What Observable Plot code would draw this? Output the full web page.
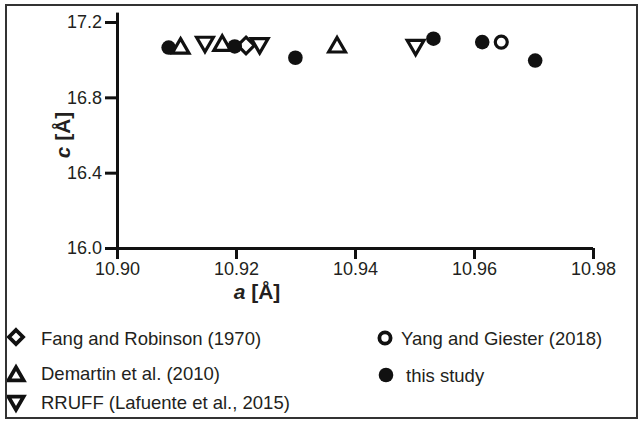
<!DOCTYPE html>
<html>
<head>
<meta charset="utf-8">
<script src="https://cdn.jsdelivr.net/npm/d3@7"></script>
<script src="https://cdn.jsdelivr.net/npm/@observablehq/plot@0.6"></script>
<style>
  body { margin: 0; background: white; }
  #wrap { position: relative; width: 642px; height: 421px; font-family: "Liberation Sans", Arial, sans-serif; color: #231f20; }
  #chart { position: absolute; left: 0; top: 0; width: 642px; }
  #chart svg text { font-size: 18px !important; font-family: "Liberation Sans", Arial, sans-serif !important; fill: #231f20; }
  #frame { position: absolute; left: 5px; top: 4px; width: 633px; height: 415px; border: 2px solid #333; box-sizing: border-box; pointer-events: none; }
  .axlab { position: absolute; font-weight: bold; font-size: 21px; line-height: 1; white-space: nowrap; }
  .leg { position: absolute; font-size: 18.5px; line-height: 1; white-space: nowrap; transform: translateY(-50%); }
  .sym { position: absolute; }
</style>
</head>
<body>
<div id="wrap">
  <div id="chart"></div>
  <div class="axlab" style="left:257px;top:291px;transform:translate(-50%,-50%)"><i>a</i> [Å]</div>
  <div class="axlab" style="left:62px;top:135px;transform:translate(-50%,-50%) rotate(-90deg)"><i>c</i> [Å]</div>
  <div id="legend"></div>
  <div id="frame"></div>
</div>
<script>
// ---- data ----
const seriesNames = ["Fang and Robinson (1970)", "Demartin et al. (2010)", "RRUFF (Lafuente et al., 2015)", "Yang and Giester (2018)", "this study"];
const fangA = [10.9216];
const fangC = [17.078];
const demartinA = [10.9106, 10.9176, 10.9369];
const demartinC = [17.063, 17.078, 17.069];
const rruffA = [10.9147, 10.9239, 10.9501];
const rruffC = [17.096, 17.089, 17.080];
const yangA = [10.9645];
const yangC = [17.096];
const studyA = [10.9086, 10.9197, 10.9299, 10.9531, 10.9613, 10.9702];
const studyC = [17.067, 17.073, 17.013, 17.114, 17.096, 16.998];
const xTicks = [10.90, 10.92, 10.94, 10.96, 10.98];
const yTicks = [16.0, 16.4, 16.8, 17.2];

const toRows = (A, C) => A.map((a, i) => ({a, c: C[i]}));
const ink = "#111";

const chart = Plot.plot({
  width: 642,
  height: 305,
  marginLeft: 117,
  marginRight: 49,
  marginTop: 12.6,
  marginBottom: 57,
  style: {fontFamily: "'Liberation Sans', Arial, sans-serif", fontSize: "18px", color: "#231f20", background: "white"},
  x: {domain: [10.90, 10.98], axis: null},
  y: {domain: [16.0, 17.25], axis: null},
  marks: [
    Plot.axisX({ticks: xTicks, tickSize: 11, tickPadding: 3, strokeWidth: 3, stroke: ink, tickFormat: d3.format(".2f"), label: null, fontSize: 18}),
    Plot.axisY({ticks: yTicks, tickSize: 12, tickPadding: 3.5, strokeWidth: 3, stroke: ink, tickFormat: d3.format(".1f"), label: null, fontSize: 18}),
    Plot.ruleY([16.0], {stroke: ink, strokeWidth: 3}),
    Plot.ruleX([10.90], {stroke: ink, strokeWidth: 3}),
    Plot.dot(toRows(fangA, fangC), {x: "a", y: "c", symbol: "diamond2", r: 7.5, stroke: ink, strokeWidth: 3.2, fill: "white"}),
    Plot.dot(toRows(demartinA, demartinC), {x: "a", y: "c", symbol: "triangle2", r: 8, stroke: ink, strokeWidth: 3.2, fill: "white"}),
    Plot.dot(toRows(rruffA, rruffC), {x: "a", y: "c", symbol: "triangle2", rotate: 180, r: 8, stroke: ink, strokeWidth: 3.2, fill: "white"}),
    Plot.dot(toRows(yangA, yangC), {x: "a", y: "c", symbol: "circle", r: 6, stroke: ink, strokeWidth: 3.2, fill: "white"}),
    Plot.dot(toRows(studyA, studyC), {x: "a", y: "c", symbol: "circle", r: 7.3, fill: ink, stroke: "none"})
  ]
});
document.getElementById("chart").appendChild(chart);

// ---- legend ----
const legendItems = [
  {name: seriesNames[0], sym: d3.symbolDiamond2, size: 125, rot: 0, filled: false, sx: 16, sy: 337, tx: 41, ty: 339},
  {name: seriesNames[1], sym: d3.symbolTriangle2, size: 165, rot: 0, filled: false, sx: 16, sy: 376, tx: 41, ty: 374},
  {name: seriesNames[2], sym: d3.symbolTriangle2, size: 165, rot: 180, filled: false, sx: 16, sy: 401, tx: 41, ty: 403},
  {name: seriesNames[3], sym: d3.symbolCircle, size: Math.PI * 5.6 * 5.6, rot: 0, filled: false, sx: 385, sy: 338, tx: 401, ty: 339},
  {name: seriesNames[4], sym: d3.symbolCircle, size: Math.PI * 7.3 * 7.3, rot: 0, filled: true, sx: 386, sy: 375, tx: 406, ty: 376}
];
const legend = d3.select("#legend");
for (const it of legendItems) {
  const svg = legend.append("svg").attr("class", "sym")
    .attr("width", 30).attr("height", 30)
    .style("left", (it.sx - 15) + "px").style("top", (it.sy - 15) + "px");
  svg.append("path")
    .attr("d", d3.symbol(it.sym, it.size)())
    .attr("transform", `translate(15,15) rotate(${it.rot})`)
    .attr("fill", it.filled ? ink : "white")
    .attr("stroke", it.filled ? "none" : ink)
    .attr("stroke-width", 3.8);
  legend.append("div").attr("class", "leg")
    .style("left", it.tx + "px").style("top", it.ty + "px")
    .text(it.name);
}
</script>
</body>
</html>
